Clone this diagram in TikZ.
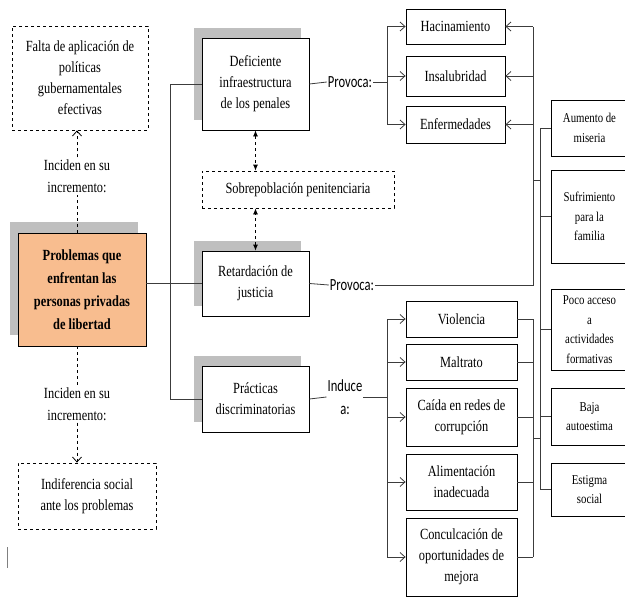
\documentclass[tikz,border=0pt]{standalone}
\usepackage{fontspec}
\setmainfont{Liberation Serif}[FakeStretch=0.8]
\newfontfamily\labelfont{Carlito}[FakeStretch=0.74]
\usetikzlibrary{arrows.meta,shadows}
\definecolor{probfill}{RGB}{248,189,143}
\definecolor{shade}{RGB}{191,191,191}
\definecolor{wire}{RGB}{60,60,60}

\begin{document}
\begin{tikzpicture}[x=1pt,y=-1pt,
        box/.style={draw, line width=0.8pt, align=center, inner sep=2pt,
                        font=\fontsize{15.5}{21}\selectfont},
        small/.style={box, font=\fontsize{13.5}{19.5}\selectfont},
        dbox/.style={box, dashed},
        sbox/.style={box, fill=white, drop shadow={shadow xshift=-8pt,
                        shadow yshift=10pt, fill=shade, opacity=1}},
        boxsize/.style 2 args={minimum width=#1pt, minimum height=#2pt},
        lbl/.style={align=center, inner sep=1pt,
                        font=\labelfont\fontsize{17}{23}\selectfont},
        txt/.style={align=center, inner sep=2pt,
                        font=\fontsize{15.5}{22}\selectfont},
        wire/.style={draw=wire, line width=0.8pt},
        arr/.style={wire, -{Straight Barb[length=5pt,width=9pt]}},
        dblarr/.style={line width=0.8pt, dashed,
                        {Latex[length=6pt,width=5pt]}-{Latex[length=6pt,width=5pt]}}]
    \useasboundingbox (0,0) rectangle (625,600);

    % left column
    \node[dbox, boxsize={136}{104}] (falta) at (80,78)
        {Falta de aplicación de\\políticas\\gubernamentales\\efectivas};
    \node[txt] (inc1) at (77,176) {Inciden en su\\incremento:};
    \node[box, fill=probfill, boxsize={128}{113},
          drop shadow={shadow xshift=-8pt, shadow yshift=11pt, fill=shade, opacity=1},
          font=\bfseries\fontsize{15.5}{23}\selectfont] (prob) at (82,289.5)
        {Problemas que\\enfrentan las\\personas privadas\\de libertad};
    \node[txt] (inc2) at (77,404) {Inciden en su\\incremento:};
    \node[dbox, boxsize={138}{66}] (indif) at (87,496)
        {Indiferencia social\\ante los problemas};
    \draw[gray, line width=0.8pt] (7,547) -- (7,568);

    % causes
    \node[sbox, boxsize={107}{92}] (def) at (255.5,84)
        {Deficiente\\infraestructura\\de los penales};
    \node[dbox, boxsize={192}{37}] (sobre) at (298,189.5)
        {Sobrepoblación penitenciaria};
    \node[sbox, boxsize={107}{65}] (ret) at (255.5,283.5)
        {Retardación de\\justicia};
    \node[sbox, boxsize={107}{66}] (prac) at (255.5,399)
        {Prácticas\\discriminatorias};
    \node[lbl] (prov1) at (350,82) {Provoca:};
    \node[lbl] (prov2) at (352,285) {Provoca:};
    \node[lbl] (ind) at (345,397) {Induce\\a:};

    % effects
    \node[box, boxsize={99}{35}] (hac) at (455.5,26.5) {Hacinamiento};
    \node[box, boxsize={99}{40}] (insa) at (455.5,76) {Insalubridad};
    \node[box, boxsize={99}{37}] (enf) at (455.5,124.5) {Enfermedades};
    \node[box, boxsize={111}{36}] (vio) at (461.5,319) {Violencia};
    \node[box, boxsize={111}{36}] (mal) at (461.5,362) {Maltrato};
    \node[box, boxsize={111}{58}] (cai) at (461.5,417) {Caída en redes de\\corrupción};
    \node[box, boxsize={111}{56}] (ali) at (461.5,482) {Alimentación\\inadecuada};
    \node[box, boxsize={111}{78}] (con) at (461.5,557)
        {Conculcación de\\oportunidades de\\mejora};
    \node[small, boxsize={77}{56}] (aum) at (589.5,128) {Aumento de\\miseria};
    \node[small, boxsize={77}{93}] (suf) at (589.5,216.5) {Sufrimiento\\para la\\familia};
    \node[small, boxsize={77}{81}] (poco) at (589.5,329.5)
        {Poco acceso\\a\\actividades\\formativas};
    \node[small, boxsize={77}{57}] (baja) at (589.5,416.5) {Baja\\autoestima};
    \node[small, boxsize={77}{53}] (est) at (589.5,489.5) {Estigma\\social};

    % junctions
    \coordinate (trunk) at (170,399);
    \coordinate (b1) at (387,76);
    \coordinate (bi) at (387,397);
    \coordinate (ba) at (533,285);
    \coordinate (bb) at (540,180);
    \coordinate (bc) at (533,438);

    % connectors
    \draw[line width=0.8pt, dashed] (prob.north -| inc1) -- (inc1.south);
    \draw[line width=0.8pt, dashed, -{Straight Barb[length=5pt,width=9pt]}]
        (inc1.north) -- (inc1.north |- falta.south);
    \draw[line width=0.8pt, dashed] (prob.south -| inc2) -- (inc2.north);
    \draw[line width=0.8pt, dashed, -{Straight Barb[length=5pt,width=9pt]}]
        (inc2.south) -- (inc2.south |- indif.north);
    \draw[wire] (ret.west -| prob.east) -- (ret.west);
    \draw[wire] (def.west) -| (trunk) -- (prac.west);
    \draw[dblarr] (def.south) -- (def.south |- sobre.north);
    \draw[dblarr] (ret.north) -- (ret.north |- sobre.south);

    \draw[wire] (def.east) -- (prov1.west);
    \draw[wire] (prov1.east) -- (prov1.east -| b1);
    \draw[wire] (b1 |- hac.west) -- (b1 |- enf.west);
    \foreach \n in {hac,insa,enf}
        \draw[arr] (b1 |- \n.west) -- (\n.west);

    \draw[wire] (ret.east) -- (prov2.west);
    \draw[wire] (prov2.east) -- (ba) -- (ba |- hac.east);
    \foreach \n in {hac,insa,enf}
        \draw[arr] (ba |- \n.east) -- (\n.east);
    \draw[wire] (ba |- bb) -- (bb);
    \draw[wire] (bb |- aum.west) -- (bb |- est.west);
    \foreach \n in {aum,suf,poco,baja,est}
        \draw[wire] (bb |- \n.west) -- (\n.west);

    \draw[wire] (prac.east) -- (ind.west);
    \draw[wire] (ind.east |- bi) -- (bi);
    \draw[wire] (bi |- vio.west) -- (bi |- con.west);
    \foreach \n in {vio,mal,cai,ali,con}
        \draw[arr] (bi |- \n.west) -- (\n.west);
    \draw[wire] (vio.east -| bc) -- (con.east -| bc);
    \foreach \n in {vio,mal,cai,ali,con}
        \draw[wire] (\n.east) -- (\n.east -| bc);
    \draw[wire] (bc) -- (bc -| bb);
\end{tikzpicture}
\end{document}
